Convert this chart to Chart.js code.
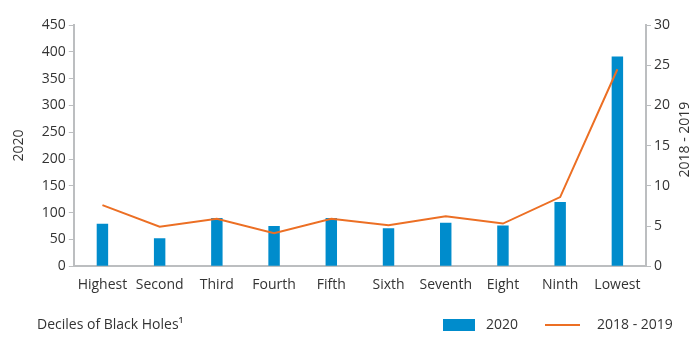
<!DOCTYPE html>
<html>
<head>
<meta charset="utf-8">
<script src="https://cdn.jsdelivr.net/npm/chart.js@4/dist/chart.umd.min.js"></script>
<style>
  html, body { margin: 0; padding: 0; background: #fff; }
  #wrap { width: 698px; height: 355px; position: relative; }
</style>
</head>
<body>
<div id="wrap"><canvas id="c" width="698" height="355"></canvas></div>
<script>
const categories = ["Highest", "Second", "Third", "Fourth", "Fifth", "Sixth", "Seventh", "Eight", "Ninth", "Lowest"];
const values2020 = [79, 52, 90, 75, 90, 71, 81, 76, 120, 391];
const values2018_2019 = [7.6, 4.9, 5.9, 4.1, 5.9, 5.1, 6.2, 5.3, 8.6, 24.5];
const leftTitle = "2020";
const rightTitle = "2018 - 2019";
const bottomText = "Deciles of Black Holes\u00B9";

const FONT = "'Open Sans', sans-serif";
const FS = 14;
const TXT = '#333333';
const AXIS = '#bcbec0';
const BLUE = '#008ccc';
const ORANGE = '#ec6f24';

const extraText = {
  id: 'extraText',
  afterDraw(chart) {
    const ctx = chart.ctx;
    const ca = chart.chartArea;
    ctx.save();
    ctx.fillStyle = TXT;
    ctx.font = FS + "px " + FONT;
    ctx.translate(685, (ca.top + ca.bottom) / 2 - 6);
    ctx.rotate(-Math.PI / 2);
    ctx.textAlign = 'center';
    ctx.textBaseline = 'middle';
    ctx.fillText(rightTitle, 0, 0);
    ctx.restore();
    const ly = 325;
    ctx.save();
    ctx.fillStyle = TXT;
    ctx.font = FS + "px " + FONT;
    ctx.textAlign = 'left';
    ctx.textBaseline = 'middle';
    ctx.fillText(bottomText, 37, ly);
    const dsBar = chart.data.datasets[1];
    const dsLine = chart.data.datasets[0];
    ctx.fillStyle = dsBar.backgroundColor;
    ctx.fillRect(443, ly - 6, 32, 12);
    ctx.fillStyle = TXT;
    ctx.fillText(dsBar.label, 486, ly);
    ctx.strokeStyle = dsLine.borderColor;
    ctx.lineWidth = 2;
    ctx.beginPath();
    ctx.moveTo(545, ly);
    ctx.lineTo(580, ly);
    ctx.stroke();
    ctx.fillText(dsLine.label, 597, ly);
    ctx.restore();
  }
};

new Chart(document.getElementById('c'), {
  data: {
    labels: categories,
    datasets: [
      {
        type: 'line',
        label: '2018 - 2019',
        data: values2018_2019,
        yAxisID: 'y1',
        borderColor: ORANGE,
        backgroundColor: ORANGE,
        borderWidth: 2,
        pointRadius: 0,
        tension: 0,
        order: 0
      },
      {
        type: 'bar',
        label: '2020',
        data: values2020,
        yAxisID: 'y',
        backgroundColor: BLUE,
        borderWidth: 0,
        barPercentage: 0.2,
        categoryPercentage: 1.0,
        order: 1
      }
    ]
  },
  options: {
    responsive: false,
    animation: false,
    maintainAspectRatio: false,
    layout: { padding: { left: 11, right: 25, top: 25, bottom: 52 } },
    plugins: {
      tooltip: { enabled: false },
      legend: { display: false }
    },
    scales: {
      x: {
        grid: { display: false, drawTicks: false },
        border: { display: true, color: AXIS, width: 2 },
        ticks: { color: TXT, font: { family: FONT, size: FS }, padding: 10, maxRotation: 0, autoSkip: false }
      },
      y: {
        position: 'left',
        min: 0, max: 450,
        grid: { drawOnChartArea: false, drawTicks: true, tickLength: 5, color: AXIS, lineWidth: 1 },
        border: { display: true, color: AXIS, width: 2 },
        ticks: { stepSize: 50, color: TXT, font: { family: FONT, size: FS }, padding: 3 },
        title: { display: true, text: leftTitle, color: TXT, font: { family: FONT, size: FS }, padding: { top: 0, bottom: 11 } }
      },
      y1: {
        position: 'right',
        min: 0, max: 30,
        grid: { drawOnChartArea: false, drawTicks: true, tickLength: 5, color: AXIS, lineWidth: 1 },
        border: { display: true, color: AXIS, width: 2 },
        ticks: { stepSize: 5, color: TXT, font: { family: FONT, size: FS }, padding: 3 }
      }
    }
  },
  plugins: [extraText]
});
</script>
</body>
</html>
